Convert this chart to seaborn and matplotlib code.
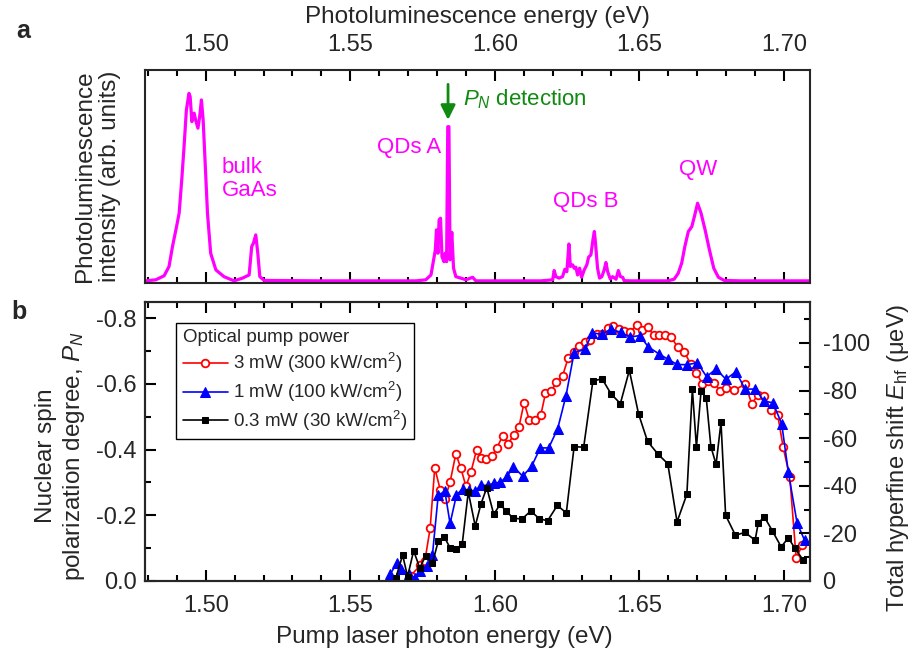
import pandas as pd
import seaborn as sns
import matplotlib.pyplot as plt
from matplotlib.ticker import MultipleLocator

# Panel a: photoluminescence spectrum
pl_energy = [1.4792, 1.4827, 1.4856, 1.4873, 1.4885, 1.4899, 1.4908, 1.4917, 1.4925, 1.4933,
             1.4942, 1.4946, 1.4952, 1.4960, 1.4965, 1.4973, 1.4979, 1.4985, 1.4991, 1.4998,
             1.5006, 1.5017, 1.5035, 1.5063, 1.5098, 1.5127, 1.5150, 1.5159, 1.5165, 1.5173,
             1.5180, 1.5187, 1.5202, 1.5400,
             1.5727, 1.5761, 1.5779, 1.5787, 1.5794, 1.5798, 1.5803, 1.5807, 1.5812, 1.5817,
             1.5824, 1.5828, 1.5833, 1.5837, 1.5841, 1.5845, 1.5851, 1.5857, 1.5865, 1.5882,
             1.5900, 1.5923, 1.5934,
             1.6159, 1.6200, 1.6205, 1.6211, 1.6222, 1.6234, 1.6242, 1.6249, 1.6256, 1.6261,
             1.6269, 1.6274, 1.6280, 1.6286, 1.6293, 1.6300, 1.6309, 1.6318, 1.6324, 1.6332,
             1.6339, 1.6344, 1.6348, 1.6355, 1.6362, 1.6370, 1.6378, 1.6384, 1.6390, 1.6399,
             1.6407, 1.6419, 1.6427, 1.6434, 1.6442, 1.6447, 1.6471,
             1.6598, 1.6620, 1.6634, 1.6646, 1.6657, 1.6669, 1.6681, 1.6690, 1.6701, 1.6713,
             1.6727, 1.6742, 1.6757, 1.6773, 1.6793, 1.6851, 1.7093]
pl_intensity = [0.000, 0.005, 0.024, 0.068, 0.163, 0.257, 0.321, 0.479, 0.637, 0.810,
                0.889, 0.874, 0.755, 0.795, 0.763, 0.724, 0.779, 0.858, 0.763, 0.558,
                0.321, 0.131, 0.052, 0.020, 0.000, 0.013, 0.028, 0.163, 0.179, 0.218,
                0.131, 0.020, 0.002, 0.000,
                0.000, 0.005, 0.028, 0.091, 0.147, 0.242, 0.131, 0.289, 0.297, 0.115,
                0.091, 0.131, 0.091, 0.731, 0.731, 0.100, 0.230, 0.060, 0.020, 0.013,
                0.005, 0.017, 0.000,
                0.000, 0.005, 0.049, 0.020, 0.013, 0.020, 0.055, 0.044, 0.175, 0.068,
                0.076, 0.060, 0.065, 0.028, 0.060, 0.017, 0.052, 0.076, 0.112, 0.123,
                0.194, 0.234, 0.179, 0.060, 0.013, 0.020, 0.052, 0.087, 0.044, 0.009,
                0.020, 0.008, 0.049, 0.020, 0.017, 0.001, 0.000,
                0.000, 0.008, 0.036, 0.084, 0.163, 0.234, 0.257, 0.305, 0.368, 0.321,
                0.242, 0.147, 0.060, 0.017, 0.002, 0.000, 0.000]

# Panel b: nuclear spin polarization vs pump energy
e_3mw = [1.5709, 1.5742, 1.5758, 1.5776, 1.5792, 1.5811, 1.5828, 1.5845, 1.5865, 1.5882,
         1.5900, 1.5917, 1.5937, 1.5952, 1.5970, 1.5989, 1.6007, 1.6027, 1.6046, 1.6065,
         1.6083, 1.6101, 1.6119, 1.6138, 1.6159, 1.6175, 1.6195, 1.6213, 1.6234, 1.6254,
         1.6272, 1.6292, 1.6311, 1.6330, 1.6353, 1.6370, 1.6390, 1.6409, 1.6428, 1.6447,
         1.6467, 1.6491, 1.6509, 1.6528, 1.6549, 1.6569, 1.6588, 1.6609, 1.6632, 1.6655,
         1.6677, 1.6697, 1.6717, 1.6736, 1.6758, 1.6779, 1.6799, 1.6826, 1.6866, 1.6888,
         1.6911, 1.6932, 1.6955, 1.6978, 1.6997, 1.7020, 1.7042, 1.7063]
pn_3mw = [-0.016, -0.048, -0.062, -0.160, -0.344, -0.278, -0.251, -0.301, -0.387, -0.344,
          -0.288, -0.331, -0.400, -0.375, -0.372, -0.379, -0.405, -0.442, -0.417, -0.445,
          -0.468, -0.543, -0.490, -0.491, -0.506, -0.571, -0.577, -0.606, -0.624, -0.680,
          -0.698, -0.715, -0.728, -0.732, -0.752, -0.751, -0.771, -0.776, -0.766, -0.761,
          -0.758, -0.779, -0.763, -0.773, -0.748, -0.748, -0.748, -0.743, -0.712, -0.697,
          -0.661, -0.634, -0.600, -0.610, -0.602, -0.579, -0.587, -0.580, -0.599, -0.540,
          -0.567, -0.562, -0.520, -0.506, -0.407, -0.316, -0.069, -0.109]

e_1mw = [1.5638, 1.5661, 1.5677, 1.5703, 1.5722, 1.5742, 1.5765, 1.5784, 1.5804, 1.5827,
         1.5845, 1.5867, 1.5888, 1.5909, 1.5932, 1.5952, 1.5975, 1.5998, 1.6018, 1.6042,
         1.6064, 1.6096, 1.6127, 1.6157, 1.6186, 1.6217, 1.6246, 1.6274, 1.6311, 1.6337,
         1.6369, 1.6401, 1.6435, 1.6467, 1.6501, 1.6531, 1.6566, 1.6598, 1.6630, 1.6664,
         1.6700, 1.6732, 1.6765, 1.6799, 1.6834, 1.6865, 1.6901, 1.6930, 1.6962, 1.6992,
         1.7015, 1.7045, 1.7071]
pn_1mw = [-0.021, -0.054, -0.035, -0.021, -0.010, -0.031, -0.046, -0.079, -0.261, -0.273,
          -0.175, -0.261, -0.281, -0.276, -0.274, -0.291, -0.291, -0.298, -0.300, -0.318,
          -0.348, -0.319, -0.349, -0.405, -0.405, -0.463, -0.564, -0.695, -0.705, -0.755,
          -0.751, -0.766, -0.757, -0.742, -0.747, -0.712, -0.692, -0.675, -0.659, -0.658,
          -0.664, -0.622, -0.645, -0.614, -0.637, -0.584, -0.584, -0.548, -0.542, -0.478,
          -0.331, -0.177, -0.124]

e_03mw = [1.5657, 1.5681, 1.5698, 1.5719, 1.5740, 1.5761, 1.5784, 1.5804, 1.5825, 1.5845,
          1.5866, 1.5887, 1.5908, 1.5932, 1.5952, 1.5972, 1.5996, 1.6018, 1.6039, 1.6062,
          1.6093, 1.6124, 1.6153, 1.6182, 1.6216, 1.6247, 1.6274, 1.6307, 1.6339, 1.6371,
          1.6402, 1.6434, 1.6465, 1.6497, 1.6528, 1.6565, 1.6598, 1.6630, 1.6664, 1.6683,
          1.6697, 1.6713, 1.6731, 1.6747, 1.6765, 1.6782, 1.6798, 1.6832, 1.6865, 1.6900,
          1.6911, 1.6932, 1.6960, 1.6990, 1.7015, 1.7038, 1.7066]
pn_03mw = [-0.008, -0.079, -0.013, -0.092, -0.040, -0.077, -0.054, -0.121, -0.134, -0.101,
           -0.097, -0.112, -0.271, -0.167, -0.235, -0.284, -0.203, -0.233, -0.213, -0.192,
           -0.188, -0.213, -0.190, -0.183, -0.230, -0.207, -0.409, -0.407, -0.609, -0.615,
           -0.569, -0.540, -0.641, -0.508, -0.425, -0.385, -0.357, -0.180, -0.264, -0.584,
           -0.407, -0.578, -0.557, -0.409, -0.355, -0.483, -0.200, -0.139, -0.148, -0.124,
           -0.177, -0.195, -0.152, -0.104, -0.131, -0.099, -0.064]

series_labels = ["3 mW (300 kW/cm$^2$)", "1 mW (100 kW/cm$^2$)", "0.3 mW (30 kW/cm$^2$)"]

sns.set_style("ticks")
plt.rcParams['font.family'] = ['Liberation Sans', 'DejaVu Sans']
plt.rcParams['mathtext.fontset'] = 'custom'
plt.rcParams['mathtext.rm'] = 'Liberation Sans'
plt.rcParams['mathtext.it'] = 'Liberation Sans:italic'
plt.rcParams['axes.unicode_minus'] = False
plt.rcParams['axes.linewidth'] = 1.5

FS_TICK = 17
FS_XLAB = 17.5
FS_YLAB = 17.5
FS_ANN = 16
MAG = '#ff00ff'
GREEN = '#108a10'
xlim = (1.479, 1.709)

fig = plt.figure(figsize=(9.15, 6.52), dpi=100)
ax_pl = fig.add_axes([0.1585, 0.566, 0.7268, 0.3267])
ax = fig.add_axes([0.1585, 0.1089, 0.7268, 0.4279])

# ---- panel a ----
pl = pd.DataFrame({'E': pl_energy, 'I': pl_intensity})
sns.lineplot(data=pl, x='E', y='I', ax=ax_pl, color=MAG, lw=2.3, estimator=None, sort=False)
ax_pl.set_xlim(*xlim)
ax_pl.set_ylim(-0.01, 1.0)
ax_pl.set_yticks([])
ax_pl.xaxis.set_major_locator(MultipleLocator(0.05))
ax_pl.xaxis.set_minor_locator(MultipleLocator(0.01))
ax_pl.xaxis.set_label_position('top')
ax_pl.tick_params(axis='x', which='both', direction='in', top=True, bottom=True,
                  labeltop=True, labelbottom=False, width=1.5, labelsize=FS_TICK, color='black')
ax_pl.tick_params(axis='x', which='major', length=8, pad=10)
ax_pl.tick_params(axis='x', which='minor', length=4)
ax_pl.set_xlabel('Photoluminescence energy (eV)', fontsize=FS_XLAB, labelpad=8)
ax_pl.set_ylabel('Photoluminescence\nintensity (arb. units)', fontsize=FS_YLAB, labelpad=17)

ax_pl.text(1.5055, 0.483, 'bulk\nGaAs', color=MAG, fontsize=FS_ANN, ha='left', va='center',
           linespacing=1.15)
ax_pl.text(1.5813, 0.630, 'QDs A', color=MAG, fontsize=FS_ANN, ha='right', va='center')
ax_pl.text(1.6201, 0.374, 'QDs B', color=MAG, fontsize=FS_ANN, ha='left', va='center')
ax_pl.text(1.6637, 0.526, 'QW', color=MAG, fontsize=FS_ANN, ha='left', va='center')
ax_pl.annotate('', xy=(1.5838, 0.75), xytext=(1.5838, 0.945),
               arrowprops=dict(arrowstyle='-|>', color=GREEN, lw=2, mutation_scale=22))
ax_pl.text(1.5889, 0.862, '$P_N$ detection', color=GREEN, fontsize=FS_ANN, ha='left', va='center')

# ---- panel b ----
sns.lineplot(x=e_3mw, y=pn_3mw, ax=ax, color='red', lw=1.2, marker='o', ms=5.5,
             mfc='white', mec='red', mew=1.3, estimator=None, sort=False, label=series_labels[0])
sns.lineplot(x=e_1mw, y=pn_1mw, ax=ax, color='blue', lw=1.2, marker='^', ms=7,
             mfc='blue', mec='blue', estimator=None, sort=False, label=series_labels[1])
sns.lineplot(x=e_03mw, y=pn_03mw, ax=ax, color='black', lw=1.2, marker='s', ms=4,
             mfc='black', mec='black', estimator=None, sort=False, label=series_labels[2])

ax.set_xlim(*xlim)
ax.set_ylim(0, -0.849)
ax.xaxis.set_major_locator(MultipleLocator(0.05))
ax.xaxis.set_minor_locator(MultipleLocator(0.01))
ax.yaxis.set_major_locator(MultipleLocator(0.2))
ax.yaxis.set_minor_locator(MultipleLocator(0.1))
ax.yaxis.set_major_formatter(plt.FuncFormatter(lambda v, p: f'{v:.1f}'))
ax.tick_params(axis='both', which='both', direction='in', top=True, right=False,
               width=1.5, labelsize=FS_TICK, color='black')
ax.tick_params(which='major', length=8, pad=6)
ax.tick_params(which='minor', length=4)
ax.tick_params(axis='x', which='major', pad=10)
ax.set_xlabel('Pump laser photon energy (eV)', fontsize=FS_XLAB)
ax.xaxis.set_label_coords(0.45, -0.16)
ax.set_ylabel('Nuclear spin\npolarization degree, $P_N$', fontsize=FS_YLAB)
ax.yaxis.set_label_coords(-0.087, 0.45)

ax2 = ax.twinx()
ax2.set_ylim(0, -117.2)
ax2.yaxis.set_major_locator(MultipleLocator(20))
ax2.yaxis.set_minor_locator(MultipleLocator(10))
ax2.yaxis.set_major_formatter(plt.FuncFormatter(lambda v, p: f'{v:.0f}'))
ax2.tick_params(axis='y', which='both', direction='in', width=1.5, labelsize=FS_TICK, color='black')
ax2.tick_params(which='major', length=8, pad=9)
ax2.tick_params(which='minor', length=4)
ax2.set_ylabel('Total hyperfine shift $E_{\\mathrm{hf}}$ (\u03bceV)', fontsize=17)
ax2.yaxis.set_label_coords(1.113, 0.44)

leg = ax.legend(loc='upper left', bbox_to_anchor=(0.0466, 0.925), borderaxespad=0,
                title='Optical pump power', fontsize=13.5, title_fontsize=13.5,
                frameon=True, fancybox=False, edgecolor='black', framealpha=1,
                handlelength=2.4, labelspacing=0.25, borderpad=0.35, handletextpad=0.3)
leg.get_frame().set_linewidth(1.0)
leg._legend_box.align = 'left'

fig.text(0.018, 0.942, 'a', fontsize=18, fontweight='bold')
fig.text(0.012, 0.51, 'b', fontsize=18, fontweight='bold')

fig.savefig('out.png', dpi=100)
